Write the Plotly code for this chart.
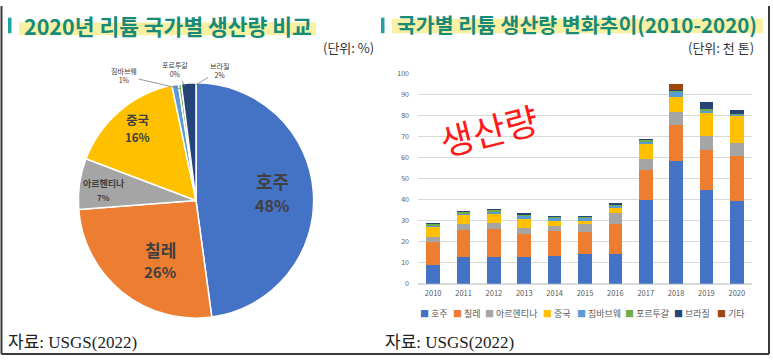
import plotly.graph_objects as go

W, H = 773, 361

# ---------------- data ----------------
pie_labels = ["호주", "칠레", "아르헨티나", "중국", "짐바브웨", "포르투갈", "브라질"]
pie_values = [48, 26, 7, 16, 0.9, 0.4, 2]
pie_pct = ["48%", "26%", "7%", "16%", "1%", "0%", "2%"]

years = ["2010", "2011", "2012", "2013", "2014", "2015", "2016", "2017", "2018", "2019", "2020"]
series_names = ["호주", "칠레", "아르헨티나", "중국", "짐바브웨", "포르투갈", "브라질", "기타"]
australia = [9.1, 12.5, 12.5, 12.5, 13.4, 14.0, 14.0, 39.7, 58.5, 44.6, 39.4]
chile = [10.9, 12.9, 13.5, 11.3, 11.6, 10.5, 14.5, 14.6, 17.0, 19.1, 21.4]
argentina = [2.3, 2.9, 2.8, 2.5, 2.7, 3.7, 5.2, 5.2, 6.3, 6.6, 6.0]
china = [4.7, 4.3, 4.4, 4.7, 2.1, 1.8, 2.5, 7.1, 7.1, 10.7, 13.2]
zimbabwe = [0.6, 0.8, 1.2, 1.3, 1.3, 1.1, 1.0, 1.0, 2.4, 1.2, 0.4]
portugal = [0.8, 0.8, 0.7, 0.6, 0.6, 0.5, 0.5, 0.9, 0.5, 0.8, 0.4]
brazil = [0.1, 0.1, 0.1, 0.1, 0.1, 0.1, 0.1, 0.1, 0.3, 3.2, 1.6]
other = [0, 0, 0, 0, 0, 0, 0, 0, 3.0, 0, 0]
series_values = [australia, chile, argentina, china, zimbabwe, portugal, brazil, other]

colors = ["#4472C4", "#ED7D31", "#A5A5A5", "#FFC000", "#5B9BD5", "#70AD47", "#264478", "#9E480E"]

# ---------------- helpers ----------------
def px(x):
    return x / W

def py(y):
    return 1 - y / H

KFONT = "Noto Sans CJK KR, Noto Sans, sans-serif"
SERIF = "Liberation Serif, Noto Sans CJK KR, serif"
TEAL_TEXT = "#178a78"
TEAL_BAR = "#1ea2a6"
HILITE = "#f8f1a4"

fig = go.Figure()

# ---------------- pie ----------------
cx, cy, r = 196, 200, 121
fig.add_trace(go.Pie(
    labels=pie_labels, values=pie_values, text=pie_pct,
    textinfo="none",
    sort=False, direction="clockwise", rotation=0,
    marker=dict(colors=colors[:7], line=dict(color="white", width=1.5)),
    domain=dict(x=[px(cx - r), px(cx + r)], y=[py(cy + r), py(cy - r)]),
    showlegend=False, hoverinfo="label+text",
))

# ---------------- stacked bars ----------------
for name, vals, col in zip(series_names, series_values, colors):
    fig.add_trace(go.Bar(x=years, y=vals, name=name, marker=dict(color=col, line=dict(width=0)),
                         showlegend=False))

fig.update_layout(
    width=W, height=H,
    margin=dict(l=0, r=0, t=0, b=0),
    paper_bgcolor="white", plot_bgcolor="white",
    barmode="stack", bargap=0.55,
    font=dict(family=KFONT, color="#404040"),
    xaxis=dict(domain=[px(418), px(752)], type="category", showgrid=False, showline=False,
               ticks="", tickfont=dict(size=7.5, color="#595959"), ticklabelstandoff=4),
    yaxis=dict(domain=[py(285.7), py(69.3)], range=[0, 100], dtick=10,
               gridcolor="#d9d9d9", gridwidth=1, zeroline=True, zerolinecolor="#d9d9d9",
               showline=False, ticks="", tickfont=dict(size=7, color="#595959"),
               ticklabelstandoff=8),
)

shapes = []
shapes.append(dict(type="rect", xref="paper", yref="paper", x0=px(19), x1=px(316), y0=py(30), y1=py(17),
                   fillcolor=HILITE, line=dict(width=0), layer="below"))
shapes.append(dict(type="rect", xref="paper", yref="paper", x0=px(392), x1=px(763), y0=py(28), y1=py(13),
                   fillcolor=HILITE, line=dict(width=0), layer="below"))
shapes.append(dict(type="rect", xref="paper", yref="paper", x0=px(8), x1=px(11.5), y0=py(28), y1=py(12),
                   fillcolor=TEAL_BAR, line=dict(width=0)))
shapes.append(dict(type="rect", xref="paper", yref="paper", x0=px(381), x1=px(384.5), y0=py(28), y1=py(12),
                   fillcolor=TEAL_BAR, line=dict(width=0)))
for x0, y0, x1, y1 in [(1.5, 0, 1.5, 358), (769, 0, 769, 358), (1.5, 358, 769, 358)]:
    shapes.append(dict(type="line", xref="paper", yref="paper", x0=px(x0), x1=px(x1), y0=py(y0), y1=py(y1),
                       line=dict(color="#3a3a3a", width=2)))
fig.update_layout(shapes=shapes)

ann = []
def text_ann(text, x, y, size, color, family=KFONT, anchor="left", **kw):
    d = dict(text=text, x=px(x), y=py(y), xanchor=anchor, yanchor="middle", align=anchor,
             font=dict(size=size, color=color, family=family), showarrow=False)
    d.update(kw)
    ann.append(d)

text_ann("<b>2020년 리튬 국가별 생산량 비교</b>", 22, 20, 21.5, TEAL_TEXT)
text_ann("<b>국가별 리튬 생산량 변화추이(2010-2020)</b>", 395, 19, 20.5, TEAL_TEXT)
text_ann("(단위: %)", 321, 43, 13, "#333333")
text_ann("(단위: 천 톤)", 686, 43, 13, "#333333")
text_ann("자료: USGS(2022)", 6, 346, 17, "#222222", SERIF)
text_ann("자료: USGS(2022)", 383, 346, 17, "#222222", SERIF)
text_ann("생산량", 488, 127, 36, "#ff1a1a", anchor="center", textangle=-14)

# large-slice pie labels (name line and percent line)
big_idx = [0, 1, 3, 2]
big_name_xy = [(272, 180), (160, 250), (137, 117), (104, 183)]
big_pct_dy = [25, 23, 18, 14]
big_name_size = [18, 17, 12.5, 9]
big_pct_size = [16, 15, 11.5, 8]
for i, (lx, ly), dy, s1, s2 in zip(big_idx, big_name_xy, big_pct_dy, big_name_size, big_pct_size):
    text_ann(f"<b>{pie_labels[i]}</b>", lx, ly, s1, "#404040", anchor="center")
    text_ann(f"<b>{pie_pct[i]}</b>", lx, ly + dy, s2, "#404040", anchor="center")

# small-slice pie labels with leader lines
small_idx = [4, 5, 6]
small_label_xy = [(124, 72), (175, 66), (219, 67)]
small_tip_xy = [(180, 85), (185, 82), (196, 81)]
for i, (lx, ly), (tx, ty) in zip(small_idx, small_label_xy, small_tip_xy):
    ann.append(dict(text=f"{pie_labels[i]}<br>{pie_pct[i]}", x=px(tx), y=py(ty), ax=lx - tx, ay=ly - ty,
                    showarrow=True, arrowhead=0, arrowwidth=0.8, arrowcolor="#7f7f7f", standoff=0,
                    font=dict(size=7, color="#404040", family=KFONT), align="center"))

# legend row for bar chart
legend_x = [418, 451, 483, 541, 575, 623, 672, 715]
for n, c, lx in zip(series_names, colors, legend_x):
    text_ann(f"<span style='color:{c}'>■</span> {n}", lx, 316, 9, "#595959")

for a in ann:
    a.setdefault("xref", "paper")
    a.setdefault("yref", "paper")
fig.update_layout(annotations=ann)

fig.write_html("out.html", config={"displayModeBar": False},
               post_script="document.body.style.margin='0';document.body.style.padding='0';")
